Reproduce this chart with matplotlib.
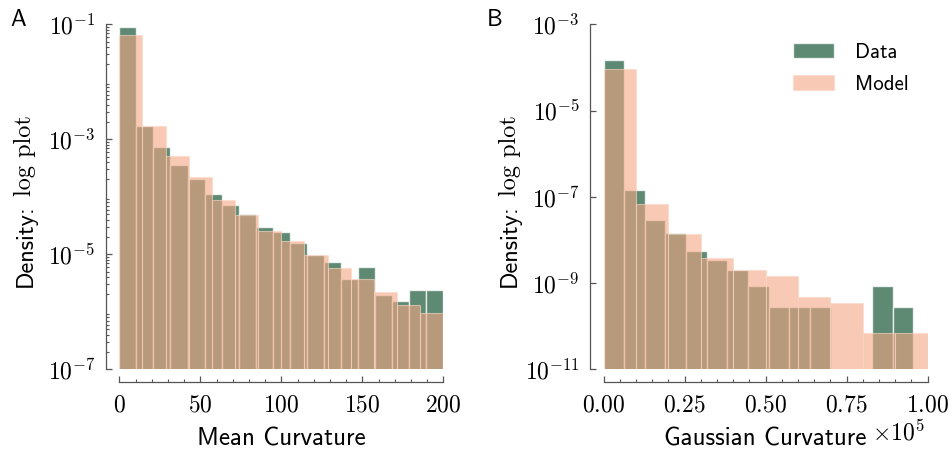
import numpy as np
import matplotlib
matplotlib.use("Agg")
import matplotlib.pyplot as plt
from matplotlib.ticker import FixedLocator, NullFormatter, MultipleLocator, FuncFormatter

plt.rcParams['font.family'] = ['cmss10', 'DejaVu Sans']
plt.rcParams['mathtext.fontset'] = 'cm'
plt.rcParams['axes.unicode_minus'] = False

# ---------------- data ----------------
# Panel A: mean curvature histograms (density, log scale)
mean_range = (0, 200)
mean_data_density = [9.0e-2, 1.71e-3, 7.45e-4, 3.58e-4, 2.01e-4, 1.12e-4, 7.1e-5,
                     4.97e-5, 2.95e-5, 2.44e-5, 1.55e-5, 9.6e-6, 7.4e-6, 3.67e-6,
                     5.94e-6, 1.94e-6, 1.56e-6, 2.43e-6, 2.43e-6]
mean_model_density = [6.52e-2, 1.71e-3, 5.13e-4, 2.21e-4, 8.81e-5, 4.83e-5, 2.51e-5,
                      1.73e-5, 9.86e-6, 5.78e-6, 3.67e-6, 2.21e-6, 1.30e-6, 9.4e-7]

# Panel B: Gaussian curvature histograms (density, log scale)
gauss_data_range = (0, 0.956e5)
gauss_model_range = (0, 1.0e5)
gauss_data_density = [1.47e-4, 1.43e-7, 2.93e-8, 1.44e-8, 5.61e-9, 3.41e-9, 1.96e-9,
                      8.4e-10, 2.83e-10, 2.83e-10, 2.83e-10, 0, 0, 8.4e-10, 2.83e-10]
gauss_model_density = [9.4e-5, 6.64e-8, 1.34e-8, 3.72e-9, 1.96e-9, 1.43e-9, 4.66e-10,
                       3.38e-10, 6.82e-11, 6.82e-11]

labels = ["Data", "Model"]
panel_letters = ["A", "B"]
xlabels = ["Mean Curvature", "Gaussian Curvature"]
ylabel_sans = "Density:"
ylabel_serif = "log plot"
gauss_scale = 1e5

DATA_COLOR = "#286344"
MODEL_COLOR = "#f4a582"
TICK_FS = 17
LABEL_FS = 18

W, H = 953, 455
fig = plt.figure(figsize=(W / 100, H / 100), dpi=100)
axA = fig.add_axes([119.3 / W, (H - 369.3) / H, 324 / W, 345 / H])
axB = fig.add_axes([603.5 / W, (H - 369.3) / H, 324.2 / W, 345 / H])


def draw_hist(ax, rng, dens, color, alpha, ec, lw, label):
    n = len(dens)
    edges = np.linspace(rng[0], rng[1], n + 1)
    h = np.array(dens, dtype=float)
    return ax.bar(edges[:-1], h, width=np.diff(edges), align='edge', color=color,
                  alpha=alpha, edgecolor=ec, linewidth=lw, label=label)


log_fmt = FuncFormatter(lambda v, p: r'$10^{%d}$' % int(np.round(np.log10(v))))

for ax, dd, dm, rd, rm in [(axA, mean_data_density, mean_model_density, mean_range, mean_range),
                           (axB, gauss_data_density, gauss_model_density, gauss_data_range, gauss_model_range)]:
    ax.set_yscale('log')
    draw_hist(ax, rd, dd, DATA_COLOR, 0.75, (1, 1, 1, 0.6), 1.0, labels[0])
    draw_hist(ax, rm, dm, MODEL_COLOR, 0.6, (0.98, 0.85, 0.78, 0.5), 0.8, labels[1])
    for s in ['top', 'right']:
        ax.spines[s].set_visible(False)
    ax.spines['left'].set_position(('outward', 9.7))
    ax.spines['bottom'].set_position(('outward', 9.0))
    for s in ['left', 'bottom']:
        ax.spines[s].set_color('#555555')
        ax.spines[s].set_linewidth(0.9)
    ax.tick_params(which='both', direction='in', colors='#555555', labelcolor='black',
                   labelsize=TICK_FS)
    ax.tick_params(which='major', length=4, width=0.9)
    ax.tick_params(which='minor', length=2.5, width=0.8)
    ax.tick_params(axis='x', which='major', pad=9)
    ax.tick_params(axis='y', which='major', pad=7.5)
    ax.yaxis.set_major_formatter(log_fmt)
    ax.yaxis.set_minor_formatter(NullFormatter())

# Panel A axes
axA.set_xlim(*mean_range)
axA.set_ylim(1e-7, 1e-1)
axA.xaxis.set_major_locator(MultipleLocator(50))
axA.xaxis.set_minor_locator(MultipleLocator(10))
axA.xaxis.set_major_formatter(FuncFormatter(lambda v, p: r'$%d$' % v))
axA.yaxis.set_major_locator(FixedLocator([1e-7, 1e-5, 1e-3, 1e-1]))
minorA = [k * 10.0 ** e for e in range(-7, -1) for k in range(2, 10)]
axA.yaxis.set_minor_locator(FixedLocator(minorA))
axA.spines['left'].set_bounds(1e-7, 1e-1)
axA.spines['bottom'].set_bounds(0, 200)
axA.set_xlabel(xlabels[0], fontsize=LABEL_FS, labelpad=8)

# Panel B axes
axB.set_xlim(*gauss_model_range)
axB.set_ylim(1e-11, 1e-3)
axB.xaxis.set_major_locator(MultipleLocator(0.25 * gauss_scale))
axB.xaxis.set_minor_locator(MultipleLocator(0.05 * gauss_scale))
axB.xaxis.set_major_formatter(FuncFormatter(lambda v, p: r'$%.2f$' % (v / gauss_scale)))
axB.yaxis.set_major_locator(FixedLocator([1e-11, 1e-9, 1e-7, 1e-5, 1e-3]))
axB.yaxis.set_minor_locator(FixedLocator([]))
axB.spines['left'].set_bounds(1e-11, 1e-3)
axB.spines['bottom'].set_bounds(0, gauss_scale)
axB.set_xlabel(xlabels[1], fontsize=LABEL_FS, labelpad=8)
fig.text(925 / W, 1 - 440 / H, r'$\times10^{%d}$' % int(np.log10(gauss_scale)),
         fontsize=TICK_FS, ha='right', va='baseline')

axB.legend(loc='upper right', frameon=False, fontsize=15, handlelength=2.0,
           handletextpad=1.0, borderaxespad=0.5, labelspacing=0.6)

fig.text(10 / W, 1 - 26 / H, panel_letters[0], fontsize=17)
fig.text(487 / W, 1 - 26 / H, panel_letters[1], fontsize=17)

# Two-font y labels: sans "Density:" followed by serif "log plot", centred on the axes
fig.canvas.draw()
renderer = fig.canvas.get_renderer()
for base_x_px in [31.5, 516.0]:
    xf = base_x_px / W
    t1 = fig.text(xf, 0.5, ylabel_sans, rotation=90, fontsize=LABEL_FS - 0.5,
                  ha='left', va='baseline', rotation_mode='anchor')
    t2 = fig.text(xf, 0.5, ylabel_serif, rotation=90, fontsize=LABEL_FS - 0.5,
                  family='cmr10', ha='left', va='baseline', rotation_mode='anchor')
    len1 = t1.get_window_extent(renderer).height
    len2 = t2.get_window_extent(renderer).height
    gap = 8.0
    total = len1 + gap + len2
    centre_from_bottom = H - 201.0
    start = centre_from_bottom - total / 2
    t1.set_position((xf, start / H))
    t2.set_position((xf, (start + len1 + gap) / H))

fig.savefig("out.png", dpi=100)
